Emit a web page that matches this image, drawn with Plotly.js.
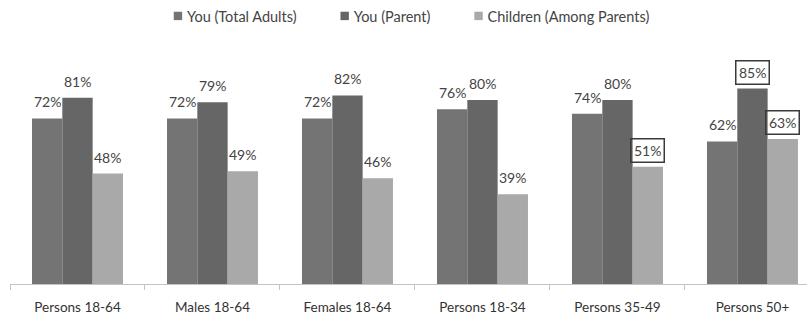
<!DOCTYPE html>
<html>
<head>
<meta charset="utf-8">
<script src="https://cdn.plot.ly/plotly-3.0.1.min.js"></script>
<style>
  html, body { margin: 0; padding: 0; background: #fff; }
  #chart { width: 807px; height: 322px; }
</style>
</head>
<body>
<div id="chart"></div>
<script>
// Audience groups along the x axis
const groups = ['Persons 18-64', 'Males 18-64', 'Females 18-64', 'Persons 18-34', 'Persons 35-49', 'Persons 50+'];

// Share (%) for each series
const seriesNames = ['You (Total Adults)', 'You (Parent)', 'Children (Among Parents)'];
const totalAdults = [72, 72, 72, 76, 74, 62];
const parents     = [81, 79, 82, 80, 80, 85];
const children    = [48, 49, 46, 39, 51, 63];

// Labels drawn inside a box to call them out
const highlightedParents  = [false, false, false, false, false, true];
const highlightedChildren = [false, false, false, false, true, true];
const highlightedAdults   = [false, false, false, false, false, false];

const seriesValues = [totalAdults, parents, children];
const seriesHighlights = [highlightedAdults, highlightedParents, highlightedChildren];
const seriesColors = ['#747474', '#666666', '#a9a9a9'];

const FONT = 'Lato, "Open Sans", "Liberation Sans", sans-serif';
const BAR_GAP = 0.326;
const barWidth = (1 - BAR_GAP) / seriesValues.length;

const traces = seriesValues.map((vals, s) => ({
  type: 'bar',
  name: seriesNames[s],
  x: groups,
  y: vals,
  marker: { color: seriesColors[s], line: { width: 0 } },
  hoverinfo: 'x+y+name'
}));

// Value labels over every bar, positioned at the bar's own offset in its group
const annotations = [];
seriesValues.forEach((vals, s) => {
  vals.forEach((v, i) => {
    const boxed = seriesHighlights[s][i];
    annotations.push({
      x: i + (s - (seriesValues.length - 1) / 2) * barWidth,
      y: v,
      xref: 'x', yref: 'y',
      text: v + '%',
      showarrow: false,
      yanchor: 'bottom',
      yshift: 4,
      font: { family: FONT, size: 14, color: '#444' },
      bordercolor: boxed ? '#3a3a3a' : 'rgba(0,0,0,0)',
      borderwidth: 1.5,
      borderpad: 2.5,
      bgcolor: 'rgba(0,0,0,0)'
    });
  });
});

const layout = {
  width: 807,
  height: 322,
  margin: { l: 10, r: 0, t: 53.5, b: 38 },
  paper_bgcolor: '#ffffff',
  plot_bgcolor: '#ffffff',
  font: { family: FONT, color: '#333' },
  barmode: 'group',
  bargap: BAR_GAP,
  bargroupgap: 0,
  showlegend: true,
  legend: {
    orientation: 'h',
    x: 0.483, xanchor: 'center',
    yref: 'container', y: 1, yanchor: 'top',
    itemwidth: 42,
    font: { family: FONT, size: 14.5, color: '#444' },
    itemclick: false
  },
  xaxis: {
    type: 'category',
    range: [-0.5, 5.404],
    showline: true,
    linecolor: '#c4c4c4',
    linewidth: 1,
    ticks: 'outside',
    tickson: 'boundaries',
    ticklen: 5,
    tickcolor: '#c4c4c4',
    ticklabelstandoff: 11,
    tickfont: { family: FONT, size: 13.5, color: '#333' },
    showgrid: false,
    zeroline: false,
    fixedrange: true
  },
  yaxis: {
    range: [0, 100],
    visible: false,
    showgrid: false,
    zeroline: false,
    fixedrange: true
  },
  annotations: annotations
};

Plotly.newPlot('chart', traces, layout, { displayModeBar: false, staticPlot: true }).then(gd => {
  // small square swatches sitting just before each legend label
  gd.querySelectorAll('.legend .traces').forEach(item => {
    const path = item.querySelector('.legendpoints path');
    const label = item.querySelector('text.legendtext');
    if (!path || !label) return;
    const base = path.getAttribute('transform') || '';
    path.setAttribute('transform', base + ' scale(0.7)');
    const pr = path.getBoundingClientRect();
    const tr = label.getBoundingClientRect();
    const dx = (tr.left - 9) - (pr.left + pr.width / 2);
    path.setAttribute('transform', 'translate(' + dx + ',0) ' + base + ' scale(0.7)');
  });
});
</script>
</body>
</html>
